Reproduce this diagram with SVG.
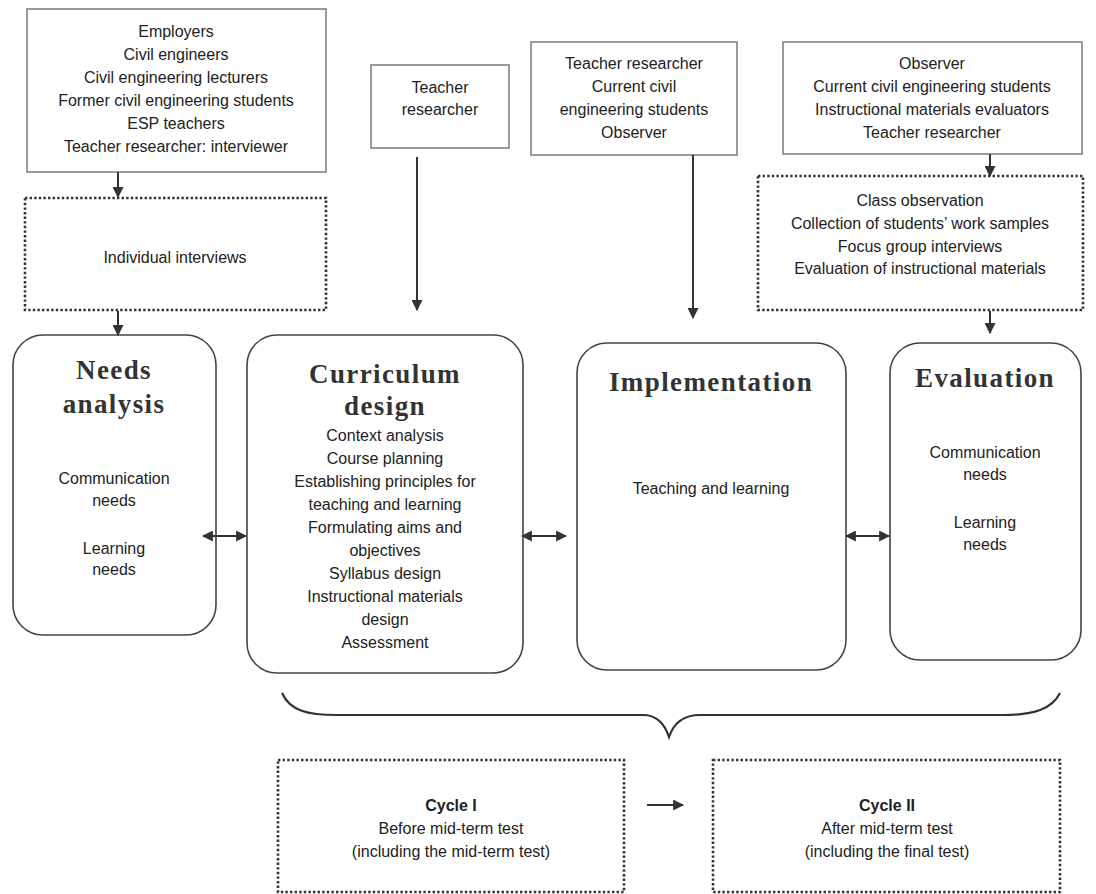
<svg xmlns="http://www.w3.org/2000/svg" width="1096" height="894" viewBox="0 0 1096 894">
  <style>
    .box { fill: #fff; stroke: #7a7a7a; stroke-width: 1.5; }
    .dot { fill: #fff; stroke: #333; stroke-width: 2.6; stroke-dasharray: 2.4 2.2; }
    .stage { fill: #fff; stroke: #444; stroke-width: 1.6; }
    .t { font-family: "Liberation Sans", Arial, sans-serif; font-size: 16px; fill: #222; text-anchor: middle; }
    .tb { font-family: "Liberation Sans", Arial, sans-serif; font-size: 16px; font-weight: bold; fill: #222; text-anchor: middle; }
    .title { font-family: "Liberation Serif", "Times New Roman", serif; font-size: 27px; font-weight: bold; fill: #333; text-anchor: middle; letter-spacing: 1.4px; }
    .arrow { stroke: #333; stroke-width: 2; fill: none; }
    .brace { stroke: #333; stroke-width: 2.2; fill: none; }
  </style>
  <defs>
    <marker id="head" viewBox="0 0 10 10" refX="9" refY="5" markerWidth="11" markerHeight="11" markerUnits="userSpaceOnUse" orient="auto-start-reverse">
      <path d="M0,0 L10,5 L0,10 Z" fill="#333"/>
    </marker>
  </defs>

  <rect width="1096" height="894" fill="#fff"/>

  <!-- participants: needs analysis -->
  <g id="participants-needs">
    <rect class="box" x="27" y="9" width="299" height="163"/>
    <text class="t" x="176" y="37">Employers</text>
    <text class="t" x="176" y="60">Civil engineers</text>
    <text class="t" x="176" y="83">Civil engineering lecturers</text>
    <text class="t" x="176" y="106">Former civil engineering students</text>
    <text class="t" x="176" y="129">ESP teachers</text>
    <text class="t" x="176" y="152">Teacher researcher: interviewer</text>
  </g>

  <g id="method-interviews">
    <rect class="dot" x="25" y="198" width="301" height="112"/>
    <text class="t" x="175" y="263">Individual interviews</text>
  </g>

  <!-- participants: curriculum design -->
  <g id="participants-design">
    <rect class="box" x="371" y="65" width="138" height="83"/>
    <text class="t" x="440" y="93">Teacher</text>
    <text class="t" x="440" y="115">researcher</text>
  </g>

  <!-- participants: implementation -->
  <g id="participants-implementation">
    <rect class="box" x="531" y="42" width="206" height="113"/>
    <text class="t" x="634" y="69">Teacher researcher</text>
    <text class="t" x="634" y="92">Current civil</text>
    <text class="t" x="634" y="115">engineering students</text>
    <text class="t" x="634" y="138">Observer</text>
  </g>

  <!-- participants: evaluation -->
  <g id="participants-evaluation">
    <rect class="box" x="783" y="42" width="299" height="112"/>
    <text class="t" x="932" y="69">Observer</text>
    <text class="t" x="932" y="92">Current civil engineering students</text>
    <text class="t" x="932" y="115">Instructional materials evaluators</text>
    <text class="t" x="932" y="138">Teacher researcher</text>
  </g>

  <g id="method-evaluation">
    <rect class="dot" x="758" y="176" width="325" height="134"/>
    <text class="t" x="920" y="206">Class observation</text>
    <text class="t" x="920" y="229">Collection of students’ work samples</text>
    <text class="t" x="920" y="252">Focus group interviews</text>
    <text class="t" x="920" y="274">Evaluation of instructional materials</text>
  </g>

  <!-- stages -->
  <g id="stage-needs-analysis">
    <rect class="stage" x="13" y="335" width="203" height="300" rx="30"/>
    <text class="title" x="114" y="379">Needs</text>
    <text class="title" x="114" y="413">analysis</text>
    <text class="t" x="114" y="484">Communication</text>
    <text class="t" x="114" y="506">needs</text>
    <text class="t" x="114" y="554">Learning</text>
    <text class="t" x="114" y="575">needs</text>
  </g>

  <g id="stage-curriculum-design">
    <rect class="stage" x="247" y="335" width="276" height="338" rx="30"/>
    <text class="title" x="385" y="383">Curriculum</text>
    <text class="title" x="385" y="415">design</text>
    <text class="t" x="385" y="441">Context analysis</text>
    <text class="t" x="385" y="464">Course planning</text>
    <text class="t" x="385" y="487">Establishing principles for</text>
    <text class="t" x="385" y="510">teaching and learning</text>
    <text class="t" x="385" y="533">Formulating aims and</text>
    <text class="t" x="385" y="556">objectives</text>
    <text class="t" x="385" y="579">Syllabus design</text>
    <text class="t" x="385" y="602">Instructional materials</text>
    <text class="t" x="385" y="625">design</text>
    <text class="t" x="385" y="648">Assessment</text>
  </g>

  <g id="stage-implementation">
    <rect class="stage" x="577" y="343" width="269" height="327" rx="30"/>
    <text class="title" x="711" y="391">Implementation</text>
    <text class="t" x="711" y="494">Teaching and learning</text>
  </g>

  <g id="stage-evaluation">
    <rect class="stage" x="890" y="343" width="191" height="317" rx="30"/>
    <text class="title" x="985" y="387">Evaluation</text>
    <text class="t" x="985" y="458">Communication</text>
    <text class="t" x="985" y="480">needs</text>
    <text class="t" x="985" y="528">Learning</text>
    <text class="t" x="985" y="550">needs</text>
  </g>

  <!-- cycles -->
  <g id="cycle-1">
    <rect class="dot" x="278" y="760" width="346" height="132"/>
    <text class="tb" x="451" y="811">Cycle I</text>
    <text class="t" x="451" y="834">Before mid-term test</text>
    <text class="t" x="451" y="857">(including the mid-term test)</text>
  </g>

  <g id="cycle-2">
    <rect class="dot" x="713" y="760" width="347" height="132"/>
    <text class="tb" x="887" y="811">Cycle II</text>
    <text class="t" x="887" y="834">After mid-term test</text>
    <text class="t" x="887" y="857">(including the final test)</text>
  </g>

  <!-- connectors -->
  <g id="connectors">
    <line class="arrow" x1="118" y1="172" x2="118" y2="197" marker-end="url(#head)"/>
    <line class="arrow" x1="118" y1="311" x2="118" y2="335" marker-end="url(#head)"/>
    <line class="arrow" x1="417" y1="157" x2="417" y2="310" marker-end="url(#head)"/>
    <line class="arrow" x1="693" y1="155" x2="693" y2="318" marker-end="url(#head)"/>
    <line class="arrow" x1="990" y1="154" x2="990" y2="176" marker-end="url(#head)"/>
    <line class="arrow" x1="990" y1="311" x2="990" y2="333" marker-end="url(#head)"/>
    <line class="arrow" x1="203" y1="536" x2="246" y2="536" marker-start="url(#head)" marker-end="url(#head)"/>
    <line class="arrow" x1="522" y1="536" x2="566" y2="536" marker-start="url(#head)" marker-end="url(#head)"/>
    <line class="arrow" x1="846" y1="536" x2="889" y2="536" marker-start="url(#head)" marker-end="url(#head)"/>
    <line class="arrow" x1="647" y1="805" x2="683" y2="805" marker-end="url(#head)"/>
    <path class="brace" d="M282,693 C290,711 308,715 337,715 L643,715 C657,715 665,725 669,737 C673,725 681,715 700,715 L1003,715 C1034,715 1052,709 1060,693"/>
  </g>
</svg>
